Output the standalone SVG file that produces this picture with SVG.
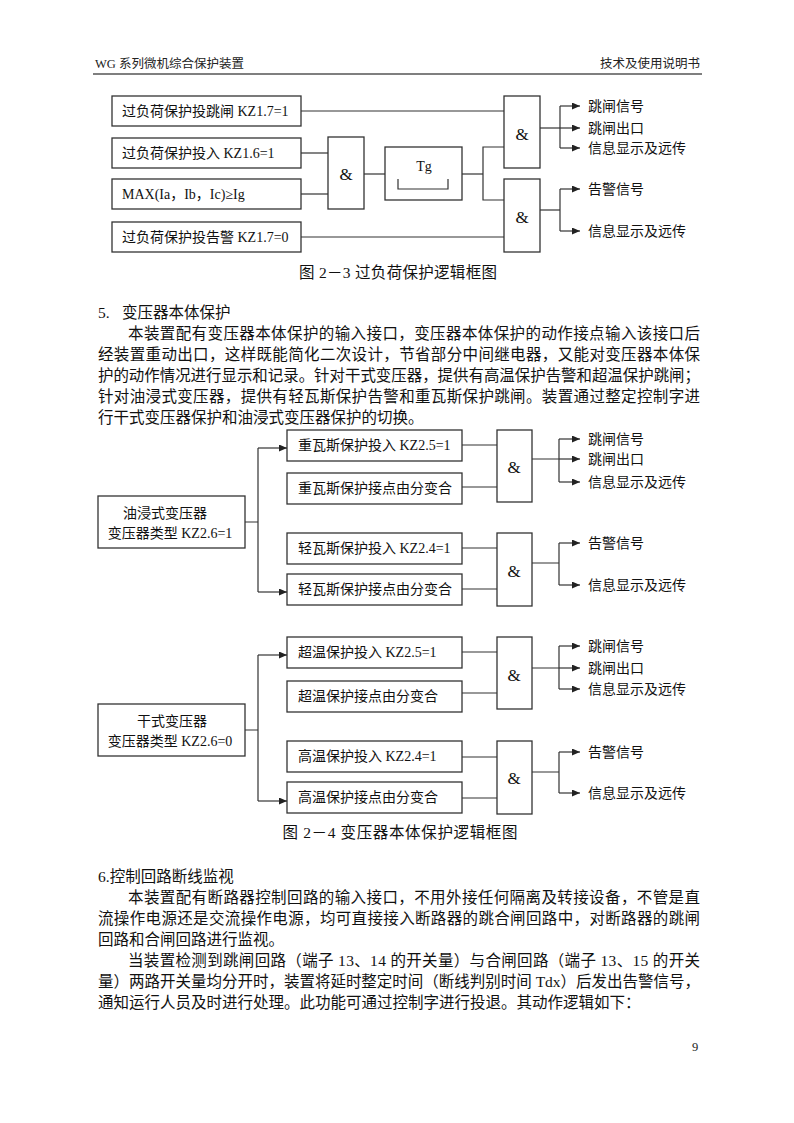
<svg xmlns="http://www.w3.org/2000/svg" width="794" height="1123" viewBox="0 0 794 1123">
<style>
.box{fill:none;stroke:#333;stroke-width:1.3}
.ln{fill:none;stroke:#333;stroke-width:1.2}
.ar{fill:none;stroke:#333;stroke-width:1.2;marker-end:url(#ah)}
.t{font-family:"Liberation Serif","Noto Sans CJK SC",serif;font-size:14px;fill:#111}
.amp{font-family:"Liberation Serif",serif;font-size:17px;fill:#111;text-anchor:middle}
.p{font-family:"Liberation Serif","Noto Sans CJK SC",serif;font-size:15.5px;fill:#111}
.cap{font-family:"Liberation Serif","Noto Sans CJK SC",serif;font-size:15.5px;fill:#111;text-anchor:middle}
.hd{font-family:"Liberation Serif","Noto Sans CJK SC",serif;font-size:12.5px;fill:#222}
</style>
<defs>
<marker id="ah" markerUnits="userSpaceOnUse" markerWidth="9" markerHeight="8" refX="8" refY="3.5" orient="auto">
<path d="M0,0 L8,3.5 L0,7 z" fill="#222"/>
</marker>
</defs>
<rect width="794" height="1123" fill="#fff"/>

<!-- header -->
<g id="header">
<text class="hd" x="95" y="68">WG 系列微机综合保护装置</text>
<text class="hd" x="700" y="68" text-anchor="end">技术及使用说明书</text>
<line x1="93" y1="74" x2="702" y2="74" stroke="#555" stroke-width="1.3"/>
</g>

<!-- Figure 2-3 -->
<g id="fig23-nodes">
<g id="n-kz17-1"><rect class="box" x="112" y="96" width="189" height="30"/><text class="t" x="122" y="116">过负荷保护投跳闸 KZ1.7=1</text></g>
<g id="n-kz16-1"><rect class="box" x="112" y="138" width="189" height="30"/><text class="t" x="122" y="158">过负荷保护投入 KZ1.6=1</text></g>
<g id="n-max"><rect class="box" x="112" y="179" width="189" height="30"/><text class="t" x="122" y="199">MAX(Ia，Ib，Ic)≥Ig</text></g>
<g id="n-kz17-0"><rect class="box" x="112" y="222" width="189" height="30"/><text class="t" x="122" y="242">过负荷保护投告警 KZ1.7=0</text></g>
<g id="g-and1"><rect class="box" x="328" y="137" width="36" height="72"/><text class="amp" x="346" y="180">&amp;</text></g>
<g id="g-tg"><rect class="box" x="385" y="147" width="77" height="53"/><text class="t" x="424" y="171" text-anchor="middle" font-size="15">Tg</text><path class="ln" d="M398,179 V189 H448 V179"/></g>
<g id="g-and2"><rect class="box" x="504" y="96" width="36" height="72"/><text class="amp" x="522" y="140">&amp;</text></g>
<g id="g-and3"><rect class="box" x="504" y="179" width="36" height="73"/><text class="amp" x="522" y="223">&amp;</text></g>
<g id="o23">
<text class="t" x="588" y="111">跳闸信号</text>
<text class="t" x="588" y="133">跳闸出口</text>
<text class="t" x="588" y="153">信息显示及远传</text>
<text class="t" x="588" y="194">告警信号</text>
<text class="t" x="588" y="236">信息显示及远传</text>
</g>
</g>
<g id="fig23-connectors">
<path class="ln" d="M301,111 H504"/>
<path class="ln" d="M301,153 H328"/>
<path class="ln" d="M301,194 H328"/>
<path class="ln" d="M301,237 H504"/>
<path class="ln" d="M364,174 H385"/>
<path class="ln" d="M462,174 H483"/>
<path class="ln" d="M504,147 H483 V200 H504"/>
<path class="ln" d="M540,128 H560"/>
<path class="ln" d="M560,106 V148"/>
<path class="ar" d="M560,106 H580"/>
<path class="ar" d="M560,128 H580"/>
<path class="ar" d="M560,148 H580"/>
<path class="ln" d="M540,210 H560"/>
<path class="ln" d="M560,189 V231"/>
<path class="ar" d="M560,189 H580"/>
<path class="ar" d="M560,231 H580"/>
</g>
<text class="cap" x="398" y="278" textLength="198">图 2－3 过负荷保护逻辑框图</text>

<!-- Section 5 text -->
<g id="sec5">
<text class="p" x="98" y="318">5.</text>
<text class="p" x="122" y="318">变压器本体保护</text>
<text class="p" x="128" y="339" textLength="572" lengthAdjust="spacing">本装置配有变压器本体保护的输入接口，变压器本体保护的动作接点输入该接口后</text>
<text class="p" x="98" y="360" textLength="602" lengthAdjust="spacing">经装置重动出口，这样既能简化二次设计，节省部分中间继电器，又能对变压器本体保</text>
<text class="p" x="98" y="381" textLength="602" lengthAdjust="spacingAndGlyphs">护的动作情况进行显示和记录。针对干式变压器，提供有高温保护告警和超温保护跳闸；</text>
<text class="p" x="98" y="402" textLength="602" lengthAdjust="spacing">针对油浸式变压器，提供有轻瓦斯保护告警和重瓦斯保护跳闸。装置通过整定控制字进</text>
<text class="p" x="98" y="423">行干式变压器保护和油浸式变压器保护的切换。</text>
</g>

<!-- Figure 2-4 -->
<g id="fig24-nodes">
<g id="n-oil"><rect class="box" x="98" y="496" width="147" height="52"/><text class="t" x="165" y="518" text-anchor="middle">油浸式变压器</text><text class="t" x="170" y="538" text-anchor="middle">变压器类型 KZ2.6=1</text></g>
<g id="n-zw1"><rect class="box" x="287" y="430" width="175" height="31"/><text class="t" x="298" y="450">重瓦斯保护投入 KZ2.5=1</text></g>
<g id="n-zw2"><rect class="box" x="287" y="473" width="175" height="31"/><text class="t" x="298" y="493">重瓦斯保护接点由分变合</text></g>
<g id="n-qw1"><rect class="box" x="287" y="533" width="175" height="31"/><text class="t" x="298" y="553">轻瓦斯保护投入 KZ2.4=1</text></g>
<g id="n-qw2"><rect class="box" x="287" y="574" width="175" height="31"/><text class="t" x="298" y="594">轻瓦斯保护接点由分变合</text></g>
<g id="g-andA"><rect class="box" x="497" y="430" width="35" height="72"/><text class="amp" x="514" y="473">&amp;</text></g>
<g id="g-andB"><rect class="box" x="497" y="533" width="35" height="73"/><text class="amp" x="514" y="577">&amp;</text></g>

<g id="n-dry"><rect class="box" x="98" y="704" width="147" height="52"/><text class="t" x="172" y="726" text-anchor="middle">干式变压器</text><text class="t" x="170" y="746" text-anchor="middle">变压器类型 KZ2.6=0</text></g>
<g id="n-cw1"><rect class="box" x="287" y="637" width="175" height="31"/><text class="t" x="298" y="657">超温保护投入 KZ2.5=1</text></g>
<g id="n-cw2"><rect class="box" x="287" y="681" width="175" height="31"/><text class="t" x="298" y="701">超温保护接点由分变合</text></g>
<g id="n-gw1"><rect class="box" x="287" y="741" width="175" height="31"/><text class="t" x="298" y="761">高温保护投入 KZ2.4=1</text></g>
<g id="n-gw2"><rect class="box" x="287" y="782" width="175" height="31"/><text class="t" x="298" y="802">高温保护接点由分变合</text></g>
<g id="g-andC"><rect class="box" x="497" y="637" width="35" height="72"/><text class="amp" x="514" y="681">&amp;</text></g>
<g id="g-andD"><rect class="box" x="497" y="741" width="35" height="73"/><text class="amp" x="514" y="784">&amp;</text></g>

<g id="o24">
<text class="t" x="588" y="444">跳闸信号</text>
<text class="t" x="588" y="464">跳闸出口</text>
<text class="t" x="588" y="487">信息显示及远传</text>
<text class="t" x="588" y="548">告警信号</text>
<text class="t" x="588" y="590">信息显示及远传</text>
<text class="t" x="588" y="651">跳闸信号</text>
<text class="t" x="588" y="673">跳闸出口</text>
<text class="t" x="588" y="694">信息显示及远传</text>
<text class="t" x="588" y="757">告警信号</text>
<text class="t" x="588" y="798">信息显示及远传</text>
</g>
</g>
<g id="fig24-connectors">
<path class="ln" d="M245,522 H258 M258,448 V592"/>
<path class="ar" d="M258,448 H287"/>
<path class="ar" d="M258,592 H287"/>
<path class="ln" d="M462,445 H497 M462,487 H497 M462,548 H497 M462,589 H497"/>
<path class="ln" d="M532,459 H559 M559,439 V482"/>
<path class="ar" d="M559,439 H580"/>
<path class="ar" d="M559,459 H580"/>
<path class="ar" d="M559,482 H580"/>
<path class="ln" d="M532,563 H559 M559,543 V585"/>
<path class="ar" d="M559,543 H580"/>
<path class="ar" d="M559,585 H580"/>

<path class="ln" d="M245,730 H258 M258,655 V801"/>
<path class="ar" d="M258,655 H287"/>
<path class="ar" d="M258,801 H287"/>
<path class="ln" d="M462,652 H497 M462,693 H497 M462,757 H497 M462,798 H497"/>
<path class="ln" d="M532,668 H559 M559,646 V689"/>
<path class="ar" d="M559,646 H580"/>
<path class="ar" d="M559,668 H580"/>
<path class="ar" d="M559,689 H580"/>
<path class="ln" d="M532,772 H559 M559,752 V793"/>
<path class="ar" d="M559,752 H580"/>
<path class="ar" d="M559,793 H580"/>
</g>
<text class="cap" x="400" y="838" textLength="235">图 2－4 变压器本体保护逻辑框图</text>

<!-- Section 6 text -->
<g id="sec6">
<text class="p" x="98" y="882">6.控制回路断线监视</text>
<text class="p" x="128" y="903" textLength="572" lengthAdjust="spacing">本装置配有断路器控制回路的输入接口，不用外接任何隔离及转接设备，不管是直</text>
<text class="p" x="98" y="924" textLength="602" lengthAdjust="spacing">流操作电源还是交流操作电源，均可直接接入断路器的跳合闸回路中，对断路器的跳闸</text>
<text class="p" x="98" y="945">回路和合闸回路进行监视。</text>
<text class="p" x="128" y="966" textLength="572" lengthAdjust="spacing">当装置检测到跳闸回路（端子 13、14 的开关量）与合闸回路（端子 13、15 的开关</text>
<text class="p" x="98" y="987" textLength="602" lengthAdjust="spacing">量）两路开关量均分开时，装置将延时整定时间（断线判别时间 Tdx）后发出告警信号，</text>
<text class="p" x="98" y="1008">通知运行人员及时进行处理。此功能可通过控制字进行投退。其动作逻辑如下：</text>
</g>

<text class="hd" x="695" y="1051" text-anchor="middle">9</text>
</svg>
